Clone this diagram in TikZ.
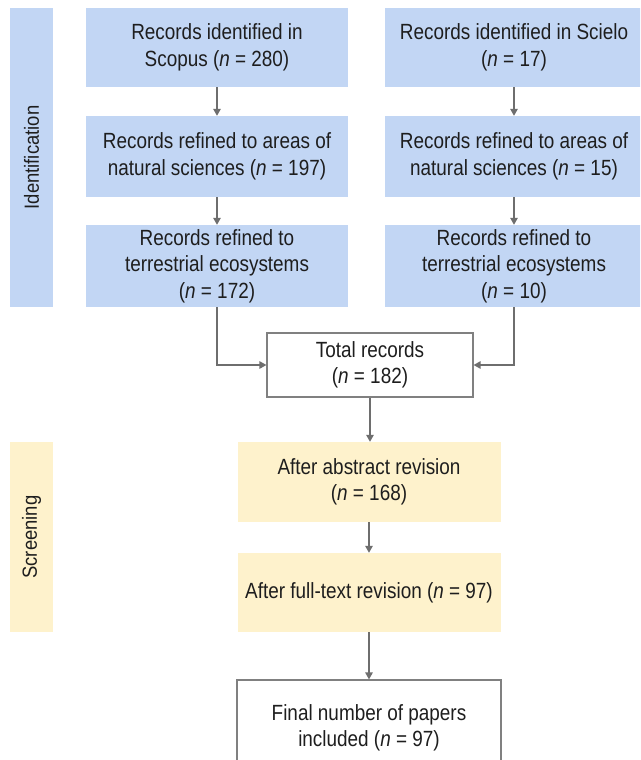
\documentclass[tikz,border=0pt]{standalone}
\usepackage{fontspec}
\setmainfont{Liberation Sans}[FakeStretch=0.86]
\newfontfamily\lblfont{Liberation Sans}[FakeStretch=0.9]
\usetikzlibrary{arrows.meta}
\definecolor{bluefill}{HTML}{C2D6F4}
\definecolor{yellowfill}{HTML}{FEF2CC}
\definecolor{linegray}{HTML}{6E6E6E}
\definecolor{boxgray}{HTML}{808080}
\definecolor{txt}{HTML}{1E1E1E}
\begin{document}
\begin{tikzpicture}[x=1pt,y=-1pt,
  box/.style={rectangle, inner sep=0pt, align=center, text=txt,
    font=\fontsize{22}{26.5}\selectfont},
  bluebox/.style={box, fill=bluefill, minimum width=#1},
  bluebox/.default=262pt,
  yellowbox/.style={box, fill=yellowfill, minimum width=263pt},
  whitebox/.style={box, fill=white, draw=boxgray, line width=1.2pt},
  bar/.style={rectangle, inner sep=0pt, minimum width=43pt, fill=#1},
  barlabel/.style={rotate=90, text=txt, inner sep=0pt,
    font=\lblfont\fontsize{20.5}{24}\selectfont},
  arr/.style={draw=linegray, line width=1.3pt,
    -{Triangle[length=7pt,width=7.5pt]}}
]
\clip (0,0) rectangle (640,760);
\fill[white] (0,0) rectangle (640,760);

% side bars
\node[bar=bluefill, minimum height=299pt] (idbar) at (31.5,157.5) {};
\node[barlabel] (idlbl) at (idbar.center) {Identification};
\node[bar=yellowfill, minimum height=190pt] (scbar) at (31.5,537) {};
\node[barlabel] (sclbl) at (scbar.center) {Screening};

% left column
\node[bluebox, minimum height=79pt] (L1) at (217,47.5)
  {Records identified in\\Scopus (\textit{n} = 280)};
\node[bluebox, minimum height=81pt] (L2) at (217,156.5)
  {Records refined to areas of\\natural sciences (\textit{n} = 197)};
\node[bluebox, minimum height=82pt] (L3) at (217,266)
  {Records refined to\\terrestrial ecosystems\\(\textit{n} = 172)};

% right column
\node[bluebox=258pt, minimum height=79pt] (R1) at (514,47.5)
  {Records identified in Scielo\\(\textit{n} = 17)};
\node[bluebox=258pt, minimum height=81pt] (R2) at (514,156.5)
  {Records refined to areas of\\natural sciences (\textit{n} = 15)};
\node[bluebox=258pt, minimum height=82pt] (R3) at (514,266)
  {Records refined to\\terrestrial ecosystems\\(\textit{n} = 10)};

% total
\node[whitebox, minimum width=206pt, minimum height=64pt] (T) at (370,365)
  {Total records\\(\textit{n} = 182)};

% screening
\node[yellowbox, minimum height=80pt] (Y1) at (369,482)
  {After abstract revision\\(\textit{n} = 168)};
\node[yellowbox, minimum height=79pt] (Y2) at (369,592.5)
  {After full-text revision (\textit{n} = 97)};

% final
\node[whitebox, minimum width=264pt, minimum height=96pt] (F) at (369,728)
  {Final number of papers\\included (\textit{n} = 97)};

% connectors
\draw[arr] (L1) -- (L2);
\draw[arr] (L2) -- (L3);
\draw[arr] (R1) -- (R2);
\draw[arr] (R2) -- (R3);
\draw[arr] (L3.south) |- (T.west);
\draw[arr] (R3.south) |- (T.east);
\draw[arr] (T.south) -- (T.south |- Y1.north);
\draw[arr] (Y1) -- (Y2);
\draw[arr] (Y2) -- (F);
\end{tikzpicture}
\end{document}
